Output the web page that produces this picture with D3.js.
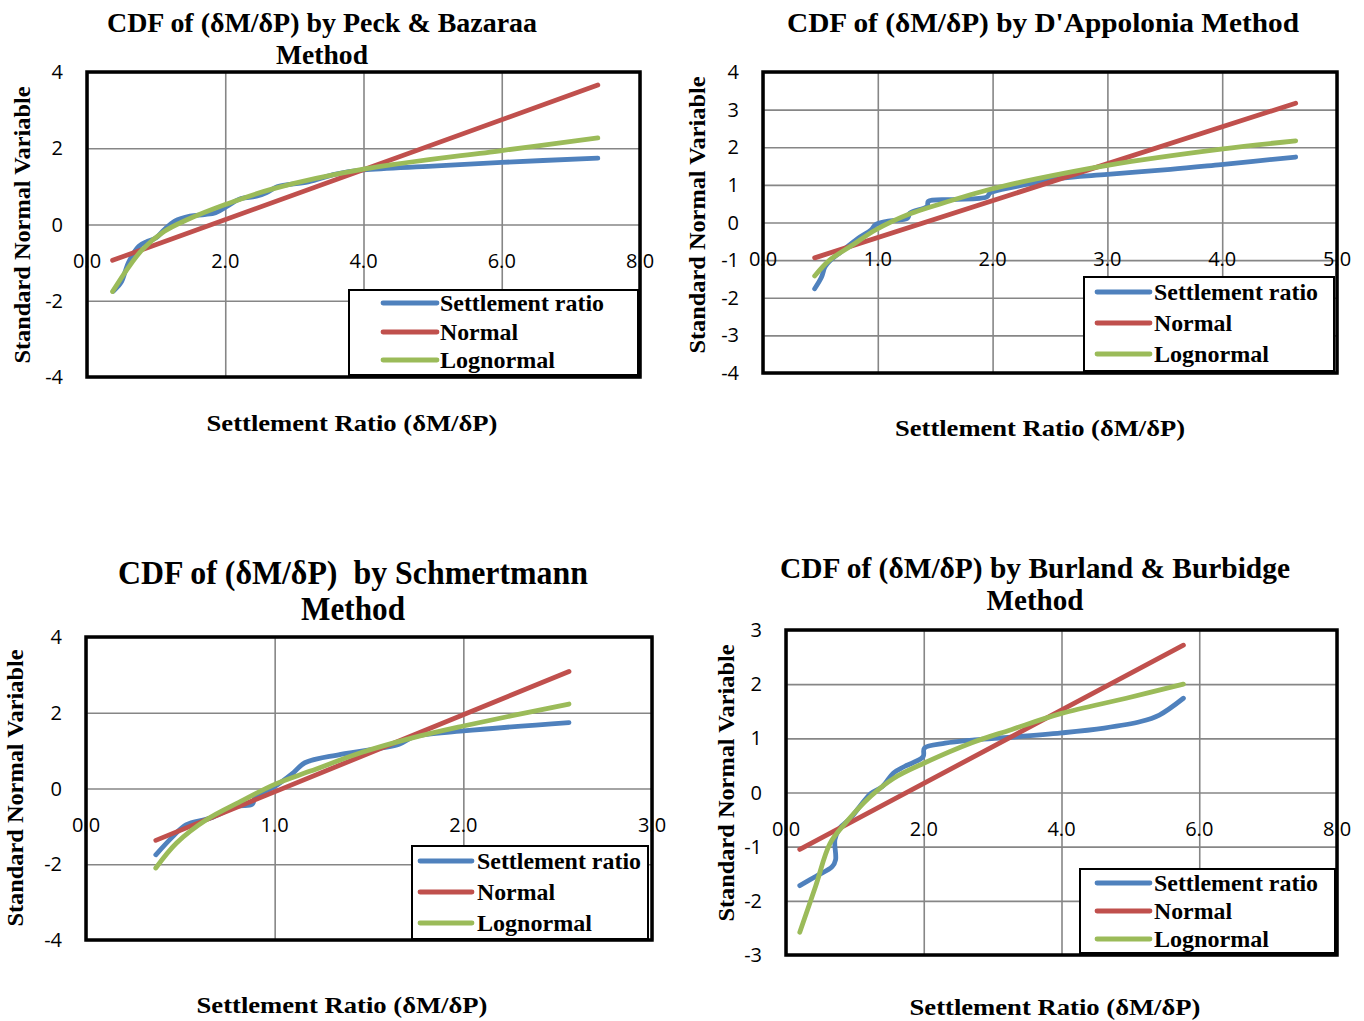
<!DOCTYPE html>
<html>
<head>
<meta charset="utf-8">
<script src="https://cdn.jsdelivr.net/npm/d3@7"></script>
<style>
  html, body { margin: 0; padding: 0; background: #fff; }
  svg { display: block; }
  text { white-space: pre; }
</style>
</head>
<body>
<svg id="chart" width="1364" height="1021"></svg>
<script>
// ---------------- DATA ----------------
const seriesNames = ["Settlement ratio", "Normal", "Lognormal"];
const xAxisTitle = "Settlement Ratio (δM/δP)";
const yAxisTitle = "Standard Normal Variable";

// Panel 1 : Peck & Bazaraa
const peckTitle = ["CDF of (δM/δP) by Peck & Bazaraa", "Method"];
const peckXTicks = [0, 2, 4, 6, 8];
const peckYTicks = [-4, -2, 0, 2, 4];
const peckSettleX = [0.38, 0.45, 0.5, 0.55, 0.6, 0.75, 0.88, 1.0, 1.12, 1.27, 1.49, 1.7, 1.86, 2.0, 2.07, 2.23, 2.45, 2.6, 2.75, 3.2, 3.6, 4.0, 5.0, 6.0, 7.39];
const peckSettleY = [-1.75, -1.62, -1.5, -1.25, -1.0, -0.57, -0.44, -0.35, -0.13, 0.09, 0.22, 0.26, 0.31, 0.45, 0.53, 0.68, 0.74, 0.84, 0.99, 1.12, 1.32, 1.43, 1.53, 1.63, 1.74];
const peckNormalX = [0.37, 7.39];
const peckNormalY = [-0.94, 3.66];
const peckLogX = [0.37, 0.59, 0.80, 1.12, 1.43, 2.01, 2.70, 4.0, 6.0, 7.39];
const peckLogY = [-1.76, -1.15, -0.66, -0.18, 0.11, 0.53, 0.94, 1.45, 1.94, 2.27];

// Panel 2 : D'Appolonia
const dappTitle = ["CDF of (δM/δP) by D'Appolonia Method"];
const dappXTicks = [0, 1, 2, 3, 4, 5];
const dappYTicks = [-4, -3, -2, -1, 0, 1, 2, 3, 4];
const dappSettleX = [0.45, 0.51, 0.54, 0.59, 0.68, 0.83, 0.94, 0.98, 1.08, 1.26, 1.28, 1.43, 1.44, 1.65, 1.95, 1.98, 2.21, 2.55, 3.0, 3.55, 3.99, 4.64];
const dappSettleY = [-1.76, -1.45, -1.18, -1.0, -0.78, -0.42, -0.2, -0.06, 0.03, 0.12, 0.25, 0.43, 0.56, 0.61, 0.68, 0.79, 0.96, 1.16, 1.28, 1.41, 1.54, 1.74];
const dappNormalX = [0.45, 4.64];
const dappNormalY = [-0.94, 3.17];
const dappLogX = [0.45, 0.58, 0.78, 0.98, 1.28, 1.55, 1.99, 2.38, 3.0, 3.99, 4.64];
const dappLogY = [-1.42, -1.0, -0.6, -0.2, 0.23, 0.5, 0.89, 1.16, 1.52, 1.95, 2.17];

// Panel 3 : Schmertmann
const schmTitle = ["CDF of (δM/δP)  by Schmertmann", "Method"];
const schmXTicks = [0, 1, 2, 3];
const schmYTicks = [-4, -2, 0, 2, 4];
const schmSettleX = [0.37, 0.46, 0.53, 0.66, 0.8, 0.88, 0.9, 0.99, 1.1, 1.16, 1.35, 1.66, 1.74, 2.0, 2.56];
const schmSettleY = [-1.75, -1.27, -0.96, -0.78, -0.47, -0.42, -0.2, 0.02, 0.42, 0.68, 0.9, 1.17, 1.37, 1.52, 1.74];
const schmNormalX = [0.37, 2.56];
const schmNormalY = [-1.37, 3.09];
const schmLogX = [0.37, 0.48, 0.64, 0.82, 1.0, 1.19, 1.46, 1.74, 2.0, 2.56];
const schmLogY = [-2.1, -1.44, -0.82, -0.34, 0.11, 0.46, 0.95, 1.35, 1.65, 2.23];

// Panel 4 : Burland & Burbidge
const burlTitle = ["CDF of (δM/δP) by Burland & Burbidge", "Method"];
const burlXTicks = [0, 2, 4, 6, 8];
const burlYTicks = [-3, -2, -1, 0, 1, 2, 3];
const burlSettleX = [0.2, 0.43, 0.67, 0.72, 0.71, 0.78, 0.94, 1.07, 1.23, 1.4, 1.56, 1.72, 1.99, 2.01, 2.31, 2.74, 3.27, 4.0, 4.62, 5.15, 5.42, 5.77];
const burlSettleY = [-1.72, -1.55, -1.37, -1.24, -0.87, -0.66, -0.47, -0.26, -0.02, 0.11, 0.36, 0.48, 0.66, 0.82, 0.91, 0.97, 1.02, 1.1, 1.19, 1.31, 1.43, 1.74];
const burlNormalX = [0.2, 5.77];
const burlNormalY = [-1.05, 2.72];
const burlLogX = [0.2, 0.43, 0.64, 0.86, 1.23, 1.56, 2.0, 2.68, 3.27, 4.0, 4.94, 5.77];
const burlLogY = [-2.58, -1.73, -0.94, -0.57, -0.07, 0.26, 0.54, 0.91, 1.16, 1.46, 1.74, 2.0];

const colors = ["#4F81BD", "#C0504D", "#9BBB59"];

// ---------------- LAYOUT ----------------
const panels = [
  { title: peckTitle, titleSize: 28, titleY: [32, 64], titleW: [430, 92], titleCx: 322,
    box: [87, 72, 640, 377], xDom: [0, 8], yDom: [-4, 4], xTicks: peckXTicks, yTicks: peckYTicks,
    series: [[peckSettleX, peckSettleY], [peckNormalX, peckNormalY], [peckLogX, peckLogY]],
    yLab: [22, 225], xLab: [352, 431, 291],
    legend: { box: [349, 290, 638, 375], rows: [303, 332, 360], l0: 383, l1: 437, tx: 440 } },
  { title: dappTitle, titleSize: 28, titleY: [32], titleW: [512], titleCx: 1043,
    box: [763, 72, 1337, 373], xDom: [0, 5], yDom: [-4, 4], xTicks: dappXTicks, yTicks: dappYTicks,
    series: [[dappSettleX, dappSettleY], [dappNormalX, dappNormalY], [dappLogX, dappLogY]],
    yLab: [697, 215], xLab: [1040, 436, 290],
    legend: { box: [1084, 277, 1334, 371], rows: [292, 323, 354], l0: 1097, l1: 1150, tx: 1154 } },
  { title: schmTitle, titleSize: 33, titleY: [584, 620], titleW: [470, 104], titleCx: 353,
    box: [86, 637, 652, 940], xDom: [0, 3], yDom: [-4, 4], xTicks: schmXTicks, yTicks: schmYTicks,
    series: [[schmSettleX, schmSettleY], [schmNormalX, schmNormalY], [schmLogX, schmLogY]],
    yLab: [15, 788], xLab: [342, 1013, 291],
    legend: { box: [412, 846, 648, 939], rows: [861, 892, 923], l0: 420, l1: 472, tx: 477 } },
  { title: burlTitle, titleSize: 29, titleY: [578, 610], titleW: [510, 97], titleCx: 1035,
    box: [786, 630, 1337, 955], xDom: [0, 8], yDom: [-3, 3], xTicks: burlXTicks, yTicks: burlYTicks,
    series: [[burlSettleX, burlSettleY], [burlNormalX, burlNormalY], [burlLogX, burlLogY]],
    yLab: [726, 783], xLab: [1055, 1015, 291],
    legend: { box: [1080, 869, 1335, 953], rows: [883, 911, 939], l0: 1097, l1: 1150, tx: 1154 } }
];

const serif = "'Liberation Serif', 'Times New Roman', serif";
const sans = "'Open Sans', Lato, 'Liberation Sans', sans-serif";
const legendW = [164, 78, 115];

const svg = d3.select("#chart");

panels.forEach(p => {
  const g = svg.append("g");
  const [x0, y0, x1, y1] = p.box;
  const x = d3.scaleLinear().domain(p.xDom).range([x0, x1]);
  const y = d3.scaleLinear().domain(p.yDom).range([y1, y0]);

  // title
  p.title.forEach((t, i) => {
    g.append("text").attr("x", p.titleCx).attr("y", p.titleY[i])
      .attr("text-anchor", "middle").attr("font-family", serif).attr("font-weight", "bold")
      .attr("font-size", p.titleSize).attr("textLength", p.titleW[i])
      .attr("lengthAdjust", "spacingAndGlyphs").text(t);
  });

  // gridlines
  g.append("g").attr("transform", `translate(${x0},0)`)
    .call(d3.axisLeft(y).tickValues(p.yTicks).tickSize(-(x1 - x0)).tickFormat(""))
    .call(a => a.select(".domain").remove())
    .call(a => a.selectAll("line").attr("stroke", "#868686").attr("stroke-width", 1.6));
  g.append("g").attr("transform", `translate(0,${y1})`)
    .call(d3.axisBottom(x).tickValues(p.xTicks).tickSize(-(y1 - y0)).tickFormat(""))
    .call(a => a.select(".domain").remove())
    .call(a => a.selectAll("line").attr("stroke", "#868686").attr("stroke-width", 1.6));

  // y tick labels
  g.selectAll(".ylab").data(p.yTicks).join("text")
    .attr("x", x0 - 24).attr("y", d => y(d) + 7)
    .attr("text-anchor", "end").attr("font-family", sans).attr("font-size", 20)
    .attr("fill", "#000").text(d => String(d));

  // x tick labels (at axis crossing y=0)
  g.selectAll(".xlab").data(p.xTicks).join("text")
    .attr("x", d => x(d)).attr("y", y(0) + 43)
    .attr("text-anchor", "middle").attr("font-family", sans).attr("font-size", 20)
    .attr("fill", "#000").text(d => d.toFixed(1));

  // series lines
  const line = d3.line().x(d => x(d[0])).y(d => y(d[1])).curve(d3.curveCatmullRom.alpha(0.5));
  p.series.forEach((s, i) => {
    const pts = s[0].map((xv, k) => [xv, s[1][k]]);
    g.append("path").datum(pts).attr("d", line)
      .attr("fill", "none").attr("stroke", colors[i]).attr("stroke-width", 4.8)
      .attr("stroke-linecap", "round").attr("stroke-linejoin", "round");
  });

  // plot border
  g.append("rect").attr("x", x0).attr("y", y0).attr("width", x1 - x0).attr("height", y1 - y0)
    .attr("fill", "none").attr("stroke", "#000").attr("stroke-width", 3.5);

  // axis titles
  g.append("text").attr("transform", `translate(${p.yLab[0] + 8},${p.yLab[1]}) rotate(-90)`)
    .attr("text-anchor", "middle").attr("font-family", serif).attr("font-weight", "bold")
    .attr("font-size", 23).attr("textLength", 277).attr("lengthAdjust", "spacingAndGlyphs")
    .text(yAxisTitle);
  g.append("text").attr("x", p.xLab[0]).attr("y", p.xLab[1])
    .attr("text-anchor", "middle").attr("font-family", serif).attr("font-weight", "bold")
    .attr("font-size", 24).attr("textLength", p.xLab[2]).attr("lengthAdjust", "spacingAndGlyphs")
    .text(xAxisTitle);

  // legend
  const L = p.legend;
  g.append("rect").attr("x", L.box[0]).attr("y", L.box[1])
    .attr("width", L.box[2] - L.box[0]).attr("height", L.box[3] - L.box[1])
    .attr("fill", "#fff").attr("stroke", "#000").attr("stroke-width", 2);
  seriesNames.forEach((n, i) => {
    g.append("line").attr("x1", L.l0).attr("x2", L.l1).attr("y1", L.rows[i]).attr("y2", L.rows[i])
      .attr("stroke", colors[i]).attr("stroke-width", 4.8).attr("stroke-linecap", "round");
    g.append("text").attr("x", L.tx).attr("y", L.rows[i] + 8)
      .attr("font-family", serif).attr("font-weight", "bold").attr("font-size", 24)
      .attr("textLength", legendW[i]).attr("lengthAdjust", "spacingAndGlyphs").text(n);
  });
});
</script>
</body>
</html>
